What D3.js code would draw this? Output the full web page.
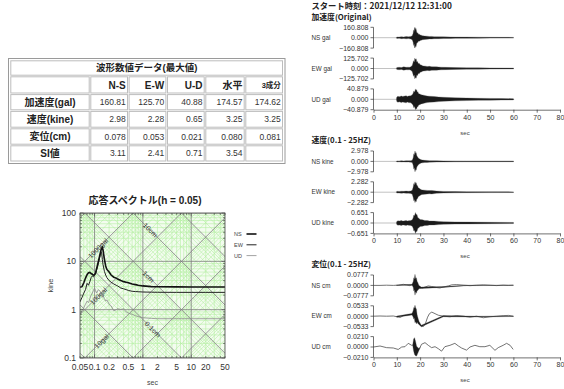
<!DOCTYPE html>
<html>
<head>
<meta charset="utf-8">
<script src="https://cdn.jsdelivr.net/npm/d3@7"></script>
<style>
  body { margin: 0; background: #fff; }
  svg { display: block; }
</style>
</head>
<body>
<svg id="chart" width="564" height="389"></svg>
<script>
// ---------- data ----------
var startTime = 'スタート時刻：2021/12/12 12:31:00'

var tableTitle = '波形数値データ(最大値)'
var tableCols = ['N-S', 'E-W', 'U-D', '水平', '3成分']
var tableRows = ['加速度(gal)', '速度(kine)', '変位(cm)', 'SI値']
var accPeak = [160.81, 125.70, 40.88, 174.57, 174.62]
var velPeak = [2.98, 2.28, 0.65, 3.25, 3.25]
var dispPeak = [0.078, 0.053, 0.021, 0.080, 0.081]
var siValue = [3.11, 2.41, 0.71, 3.54]

// response spectrum (h = 0.05), period in sec, velocity in kine
var specPeriod = [0.05, 0.055, 0.06, 0.065, 0.07, 0.075, 0.08, 0.085, 0.09, 0.095, 0.1, 0.105, 0.11, 0.12, 0.13, 0.135, 0.14, 0.145, 0.15, 0.16, 0.17, 0.18, 0.2, 0.22, 0.25, 0.28, 0.3, 0.35, 0.4, 0.45, 0.5, 0.6, 0.7, 0.8, 1, 1.5, 2, 5, 10, 20, 50]
var specNS = [2.9, 3.0, 3.6, 4.5, 5.3, 5.8, 5.9, 5.6, 5.4, 5.2, 5.3, 5.8, 7.0, 10, 14, 16.5, 18.5, 19.5, 17, 11, 8.0, 6.8, 6.0, 5.2, 4.7, 4.5, 4.3, 4.0, 3.8, 3.7, 3.6, 3.4, 3.3, 3.2, 3.1, 3.0, 2.98, 2.96, 2.95, 2.95, 2.95]
var specEW = [1.45, 1.8, 2.2, 2.6, 3.5, 3.2, 3.8, 4.6, 5.0, 4.8, 5.2, 5.5, 6.5, 9, 13, 16, 15, 11, 8.5, 6.2, 5.2, 4.6, 4.0, 3.7, 3.4, 3.2, 3.1, 2.8, 2.7, 2.6, 2.5, 2.4, 2.37, 2.35, 2.32, 2.3, 2.29, 2.28, 2.28, 2.28, 2.28]
var specUD = [0.8, 0.95, 1.1, 1.3, 1.5, 1.4, 1.7, 2.0, 2.2, 2.5, 2.8, 2.5, 2.2, 2.6, 2.4, 2.2, 2.0, 2.1, 1.9, 1.7, 1.5, 1.6, 1.3, 1.2, 0.95, 1.0, 1.05, 1.0, 1.05, 0.9, 0.85, 0.8, 0.75, 0.72, 0.68, 0.66, 0.65, 0.65, 0.65, 0.65, 0.65]
var specXTicks = [0.05, 0.1, 0.2, 0.5, 1, 2, 5, 10, 20, 50]
var specYTicks = [0.1, 1, 10, 100]
var dispLineLabels = [[10, '10cm', 1.42], [1, '1cm', 1.3], [0.1, '0.1cm', 1.6]]
var accLineLabels = [[1000, '1000gal', 0.118], [100, '100gal', 0.12], [10, '10gal', 0.14]]

// waveforms: axis limits and amplitude envelopes [sec, value]
var channels = ['NS', 'EW', 'UD']
var accMax = [160.808, 125.702, 40.879]
var velMax = [2.978, 2.282, 0.651]
var dispMax = [0.0777, 0.0533, 0.0210]

var accEnvNS = [[9.8, 0], [10, 12], [11, 10], [12, 15], [13, 12], [14, 17], [15, 14], [16, 20], [16.6, 30], [17, 70], [17.2, 120], [17.4, 95], [17.6, 150], [17.8, 160], [18, 125], [18.2, 145], [18.5, 95], [18.7, 70], [19, 78], [19.3, 52], [19.7, 55], [20, 42], [20.5, 38], [21, 32], [22, 26], [23, 24], [24, 19], [25, 20], [26, 16], [28, 15], [30, 13], [33, 12], [35, 10], [40, 9], [45, 8], [50, 6.5], [55, 5.5], [60, 5], [60.2, 0]]
var accEnvEW = [[9.8, 0], [10, 12], [11, 15], [12, 12], [13, 20], [14, 14], [14.5, 16], [15.5, 15], [16, 22], [16.6, 35], [17, 75], [17.2, 95], [17.5, 80], [17.7, 125], [18, 110], [18.3, 118], [18.6, 80], [18.9, 85], [19.2, 60], [19.6, 62], [20, 45], [20.5, 42], [21, 34], [21.5, 30], [22.5, 28], [23, 24], [24, 26], [25, 22], [27, 20], [29, 16], [31, 14], [35, 11], [40, 9], [45, 8], [50, 7], [55, 6], [60, 5], [60.2, 0]]
var accEnvUD = [[9.8, 0], [10, 9], [10.5, 12], [11, 10], [12, 13], [12.5, 11], [13, 12], [14, 14], [14.5, 11], [15, 13], [16, 14], [16.6, 18], [17, 24], [17.3, 33], [17.6, 28], [18, 40.9], [18.2, 36], [18.5, 38], [18.8, 28], [19, 30], [19.4, 22], [19.8, 21], [20.5, 18], [21, 17], [22, 15], [23, 13], [24, 12], [26, 11], [28, 9], [30, 8], [35, 6], [40, 5], [45, 4], [50, 3.5], [55, 3], [60, 2.5], [60.2, 0]]

var velEnvNS = [[9.8, 0], [10, 0.15], [11, 0.12], [12, 0.18], [13, 0.15], [14, 0.2], [15, 0.16], [16, 0.22], [16.6, 0.35], [17, 1.0], [17.3, 2.2], [17.5, 1.8], [17.8, 2.978], [18.1, 2.3], [18.3, 2.5], [18.6, 1.6], [18.8, 1.4], [19.2, 1.0], [19.5, 0.8], [20, 0.6], [20.5, 0.45], [21, 0.4], [22, 0.3], [23, 0.28], [24, 0.22], [27, 0.18], [30, 0.15], [35, 0.12], [40, 0.1], [50, 0.09], [60, 0.08], [60.2, 0]]
var velEnvEW = [[9.8, 0], [10, 0.2], [11, 0.18], [12, 0.22], [13, 0.2], [14, 0.25], [15, 0.22], [16, 0.28], [16.6, 0.45], [17, 1.1], [17.3, 1.9], [17.5, 1.6], [17.8, 2.282], [18.1, 1.9], [18.3, 2.1], [18.6, 1.5], [18.9, 1.4], [19.2, 1.0], [19.5, 0.9], [20, 0.7], [20.5, 0.55], [21, 0.5], [22, 0.45], [23, 0.4], [24, 0.35], [25, 0.38], [27, 0.25], [30, 0.18], [35, 0.14], [40, 0.11], [50, 0.09], [60, 0.07], [60.2, 0]]
var velEnvUD = [[9.8, 0], [10, 0.1], [10.5, 0.14], [11, 0.12], [12, 0.15], [12.5, 0.12], [13, 0.13], [14, 0.16], [14.5, 0.13], [15, 0.14], [16, 0.15], [16.6, 0.2], [17, 0.32], [17.3, 0.5], [17.6, 0.45], [18, 0.651], [18.3, 0.52], [18.6, 0.55], [19, 0.35], [19.4, 0.3], [20, 0.22], [21, 0.2], [22, 0.16], [23, 0.15], [24, 0.13], [26, 0.12], [28, 0.1], [30, 0.08], [35, 0.07], [40, 0.06], [50, 0.045], [60, 0.035], [60.2, 0]]

var dispNS = [[0, 0], [2.8, 0], [5.6, 0.0015], [8.5, 0], [10.6, 0.002], [12.8, 0.008], [14.2, 0.004], [15.6, -0.002], [16.8, 0.007], [17.5, 0.008], [18.3, 0], [19, -0.008], [19.9, -0.016], [21.1, -0.019], [22.1, -0.012], [23.5, -0.004], [24.9, -0.008], [27.1, -0.016], [28.5, -0.019], [30, -0.012], [32.1, -0.004], [33.5, 0.004], [35.6, 0.006], [38.5, 0.002], [41.4, -0.002], [44.2, 0.0015], [47.1, 0.004], [50, 0.0015], [52.8, -0.0015], [55.6, 0.002], [57.8, 0], [60, 0.0015]]
var dispEW = [[0, 0], [2.8, 0.001], [5.6, 0], [8.5, 0.001], [10.6, -0.004], [11.5, -0.006], [12.8, 0.003], [14.2, 0.005], [15.6, 0.008], [16.8, 0.011], [17.5, 0.016], [18.2, 0.005], [19, -0.021], [19.9, -0.045], [20.6, -0.051], [21.4, -0.053], [22.3, -0.037], [23.2, -0.005], [24, 0.013], [25, 0.021], [26.4, 0.013], [27.8, 0.005], [30, 0], [32.8, -0.003], [35.6, 0.003], [38.5, 0], [41.4, -0.005], [44.2, 0], [47.1, -0.008], [50, -0.003], [52.8, 0], [55.6, 0.003], [58, 0.004], [60, 0]]
var dispUD = [[0, 0], [2.8, 0.002], [5.6, -0.0013], [8.5, -0.002], [10.6, -0.005], [12.1, 0], [13.5, 0.0006], [14.9, 0.0074], [16.4, 0.0034], [17.4, 0.0042], [18.5, -0.0084], [19.6, -0.0048], [20.6, 0.0055], [22.1, 0.0088], [23.5, 0.0034], [24.9, -0.0013], [26.4, 0.0006], [27.8, -0.0034], [29.2, -0.0084], [30.6, 0.0006], [32.8, 0.0034], [34.9, 0.0074], [36.4, 0.0021], [37.8, -0.0021], [39.9, -0.0063], [41.4, 0], [43.5, 0.0034], [45.6, 0.0006], [47.8, 0.0006], [49.9, 0.0034], [52.1, -0.0067], [53.5, -0.0013], [55.6, 0.0034], [57.1, 0.0074], [58.6, 0.0034], [59.9, -0.0048]]
var dispEnvNS = [[9.8, 0], [10, 0.002], [16.5, 0.003], [17, 0.02], [17.3, 0.05], [17.5, 0.04], [17.8, 0.0777], [18.1, 0.05], [18.4, 0.058], [18.7, 0.035], [19, 0.03], [19.5, 0.012], [20.5, 0.005], [30, 0.003], [40, 0.002], [60, 0.001]]
var dispEnvEW = [[9.8, 0], [10, 0.003], [16.5, 0.004], [17, 0.016], [17.3, 0.03], [17.5, 0.025], [17.8, 0.045], [18.1, 0.035], [18.4, 0.038], [18.7, 0.02], [19, 0.016], [19.5, 0.008], [20.5, 0.004], [30, 0.003], [45, 0.002], [60, 0.0015]]
var dispEnvUD = [[16.8, 0], [17.2, 0.012], [17.6, 0.017], [18, 0.015], [18.5, 0.01], [19, 0.006], [19.5, 0.002], [20, 0]]

var timeTicks = [0, 10, 20, 30, 40, 50, 60, 70, 80]

// ---------- drawing ----------
var FONT = '"Liberation Sans", Arial, "Noto Sans CJK JP", sans-serif'
var JFONT = '"Noto Sans CJK JP", "Liberation Sans", sans-serif'
var svg = d3.select('#chart').style('font-family', FONT)

// ----- table -----
function drawTable () {
  var colEdges = [10, 90, 128.3, 166.7, 205, 245, 283.3]
  var rowEdges = [60, 76, 93.8, 110.6, 128, 145, 161.8]
  var t = svg.append('g').attr('class', 'table')

  t.append('rect')
    .attr('x', 8.5).attr('y', 58.5).attr('width', 276.5).attr('height', 105)
    .attr('fill', '#fff').attr('stroke', '#9a9a9a')

  function cell (c0, c1, r) {
    t.append('rect')
      .attr('x', colEdges[c0] + 0.8).attr('y', rowEdges[r] + 0.8)
      .attr('width', colEdges[c1] - colEdges[c0] - 1.6)
      .attr('height', rowEdges[r + 1] - rowEdges[r] - 1.6)
      .attr('fill', 'none').attr('stroke', '#bdbdbd')
  }
  function mid (r) { return (rowEdges[r] + rowEdges[r + 1]) / 2 }

  cell(0, 6, 0)
  t.append('text').attr('x', (colEdges[0] + colEdges[6]) / 2).attr('y', mid(0)).attr('dy', '0.36em')
    .attr('text-anchor', 'middle').attr('font-weight', 'bold').attr('font-size', 9.5).attr('fill', '#222')
    .text(tableTitle)

  cell(0, 1, 1)
  tableCols.forEach(function (c, i) {
    cell(i + 1, i + 2, 1)
    t.append('text').attr('x', colEdges[i + 2] - 2.5).attr('y', mid(1)).attr('dy', '0.36em')
      .attr('text-anchor', 'end').attr('font-weight', 'bold')
      .attr('font-size', i === 4 ? 7.5 : 10).attr('fill', '#222')
      .text(c)
  })

  var rowValues = [
    accPeak.map(d3.format('.2f')),
    velPeak.map(d3.format('.2f')),
    dispPeak.map(d3.format('.3f')),
    siValue.map(d3.format('.2f'))
  ]
  tableRows.forEach(function (label, j) {
    var r = j + 2
    cell(0, 1, r)
    t.append('text').attr('x', (colEdges[0] + colEdges[1]) / 2).attr('y', mid(r)).attr('dy', '0.36em')
      .attr('text-anchor', 'middle').attr('font-weight', 'bold').attr('font-size', 10).attr('fill', '#222')
      .text(label)
    for (var i = 0; i < 5; i++) {
      cell(i + 1, i + 2, r)
      if (rowValues[j][i] === undefined) continue
      t.append('text').attr('x', colEdges[i + 2] - 2.5).attr('y', mid(r)).attr('dy', '0.36em')
        .attr('text-anchor', 'end').attr('font-size', 8.5).attr('fill', '#333')
        .text(rowValues[j][i])
    }
  })
}

// ----- response spectrum -----
function logSteps (lo, hi) {
  var out = []
  for (var e = Math.floor(Math.log10(lo)) - 1; e <= Math.ceil(Math.log10(hi)); e++) {
    for (var k = 1; k < 10; k++) {
      var v = +(k * Math.pow(10, e)).toPrecision(6)
      if (v >= lo * 0.9999 && v <= hi * 1.0001) out.push({ v: v, major: k === 1 })
    }
  }
  return out
}

function drawSpectrum () {
  var left = 80, right = 225, top = 213, bottom = 358
  var sx = d3.scaleLog().domain([0.05, 50]).range([left, right])
  var sy = d3.scaleLog().domain([0.1, 100]).range([bottom, top])
  var twoPi = 2 * Math.PI
  var g = svg.append('g').attr('class', 'spectrum')

  svg.append('clipPath').attr('id', 'clipSpec')
    .append('rect').attr('x', left).attr('y', top).attr('width', right - left).attr('height', bottom - top)

  var grid = g.append('g').attr('clip-path', 'url(#clipSpec)')
  grid.append('rect').attr('x', left).attr('y', top).attr('width', right - left).attr('height', bottom - top)
    .attr('fill', '#f3fcef')

  var vLines = logSteps(0.1, 100)
  var tLines = logSteps(0.05, 50)
  var dLines = logSteps(0.0001, 1000)
  var aLines = logSteps(0.01, 100000)

  function drawSet (major, color, width) {
    var gg = grid.append('g').attr('stroke', color).attr('stroke-width', width).attr('fill', 'none')
    vLines.filter(function (d) { return d.major === major }).forEach(function (d) {
      gg.append('line').attr('x1', left).attr('x2', right).attr('y1', sy(d.v)).attr('y2', sy(d.v))
    })
    tLines.filter(function (d) { return d.major === major }).forEach(function (d) {
      gg.append('line').attr('y1', top).attr('y2', bottom).attr('x1', sx(d.v)).attr('x2', sx(d.v))
    })
    dLines.filter(function (d) { return d.major === major }).forEach(function (d) {
      gg.append('line')
        .attr('x1', sx(0.05)).attr('y1', sy(twoPi * d.v / 0.05))
        .attr('x2', sx(50)).attr('y2', sy(twoPi * d.v / 50))
    })
    aLines.filter(function (d) { return d.major === major }).forEach(function (d) {
      gg.append('line')
        .attr('x1', sx(0.05)).attr('y1', sy(d.v * 0.05 / twoPi))
        .attr('x2', sx(50)).attr('y2', sy(d.v * 50 / twoPi))
    })
  }
  drawSet(false, '#b2ee9f', 0.55)
  drawSet(true, '#7c7c7c', 0.8)

  // diagonal labels
  dispLineLabels.forEach(function (d) {
    var x = sx(d[2]), y = sy(twoPi * d[0] / d[2])
    grid.append('text').attr('transform', 'translate(' + x + ',' + y + ') rotate(45)')
      .attr('text-anchor', 'middle').attr('dy', '0.35em').attr('font-size', 7).attr('fill', '#333')
      .text(d[1])
  })
  accLineLabels.forEach(function (d) {
    var x = sx(d[2]), y = sy(d[0] * d[2] / twoPi)
    grid.append('text').attr('transform', 'translate(' + x + ',' + y + ') rotate(-45)')
      .attr('text-anchor', 'middle').attr('dy', '0.35em').attr('font-size', 7).attr('fill', '#333')
      .text(d[1])
  })

  // curves
  var line = d3.line()
    .x(function (d, i) { return sx(specPeriod[i]) })
    .y(function (d) { return sy(d) })
  var curves = [
    { name: 'NS', values: specNS, color: '#111', width: 1.6 },
    { name: 'EW', values: specEW, color: '#222', width: 1.0 },
    { name: 'UD', values: specUD, color: '#8a8a8a', width: 0.8 }
  ]
  curves.slice().reverse().forEach(function (c) {
    grid.append('path').attr('d', line(c.values))
      .attr('fill', 'none').attr('stroke', c.color).attr('stroke-width', c.width)
  })

  // frame and ticks
  g.append('rect').attr('x', left).attr('y', top).attr('width', right - left).attr('height', bottom - top)
    .attr('fill', 'none').attr('stroke', '#444').attr('stroke-width', 0.8)
  var tk = g.append('g').attr('stroke', '#444').attr('stroke-width', 0.6)
  tLines.forEach(function (d) {
    var len = d.major ? 3.5 : 2
    tk.append('line').attr('x1', sx(d.v)).attr('x2', sx(d.v)).attr('y1', bottom).attr('y2', bottom - len)
    tk.append('line').attr('x1', sx(d.v)).attr('x2', sx(d.v)).attr('y1', top).attr('y2', top + len)
  })
  vLines.forEach(function (d) {
    var len = d.major ? 3.5 : 2
    tk.append('line').attr('y1', sy(d.v)).attr('y2', sy(d.v)).attr('x1', left).attr('x2', left + len)
    tk.append('line').attr('y1', sy(d.v)).attr('y2', sy(d.v)).attr('x1', right).attr('x2', right - len)
  })

  g.selectAll('.xl').data(specXTicks).enter().append('text')
    .attr('x', function (d) { return sx(d) }).attr('y', bottom + 12)
    .attr('text-anchor', 'middle').attr('font-size', 8.5).attr('fill', '#333')
    .text(function (d) { return d3.format('~g')(d) })
  g.selectAll('.yl').data(specYTicks).enter().append('text')
    .attr('x', left - 4).attr('y', function (d) { return sy(d) }).attr('dy', '0.35em')
    .attr('text-anchor', 'end').attr('font-size', 8.5).attr('fill', '#333')
    .text(function (d) { return d3.format('~g')(d) })

  g.append('text').attr('x', (left + right) / 2).attr('y', bottom + 27)
    .attr('text-anchor', 'middle').attr('font-size', 7).attr('fill', '#444').text('sec')
  g.append('text').attr('transform', 'translate(' + 50 + ',' + ((top + bottom) / 2) + ') rotate(-90)')
    .attr('text-anchor', 'middle').attr('dy', '0.35em').attr('font-size', 7.5).attr('fill', '#444').text('kine')
  g.append('text').attr('x', 145).attr('y', 203.5)
    .attr('text-anchor', 'middle').attr('font-size', 10).attr('font-weight', 'bold').attr('fill', '#222')
    .text('応答スペクトル(h = 0.05)')

  // legend
  curves.forEach(function (c, i) {
    var y = 234 + i * 10.8
    g.append('text').attr('x', 234).attr('y', y).attr('dy', '0.35em')
      .attr('font-size', 5.5).attr('fill', '#444').text(c.name)
    g.append('line').attr('x1', 246.5).attr('x2', 256.5).attr('y1', y).attr('y2', y)
      .attr('stroke', c.color).attr('stroke-width', c.width)
  })
}

// ----- waveforms -----
function drawWaveforms () {
  var tx = d3.scaleLinear().domain([0, 80]).range([373.5, 560])
  var pitch = 30.8, height = 20.8
  var panels = [
    { title: '加速度(Original)', unit: 'gal', top: 27.3, max: accMax, fmt: d3.format('.3f'), env: [accEnvNS, accEnvEW, accEnvUD] },
    { title: '速度(0.1 - 25HZ)', unit: 'kine', top: 151, max: velMax, fmt: d3.format('.3f'), env: [velEnvNS, velEnvEW, velEnvUD] },
    { title: '変位(0.1 - 25HZ)', unit: 'cm', top: 275, max: dispMax, fmt: d3.format('.4f'), env: [dispEnvNS, dispEnvEW, dispEnvUD], trend: [dispNS, dispEW, dispUD] }
  ]

  svg.append('text').attr('x', 311.5).attr('y', 9).style('font-family', JFONT)
    .attr('font-size', 8.3).attr('font-weight', 'bold').attr('fill', '#222').text(startTime)

  panels.forEach(function (p) {
    var g = svg.append('g').attr('class', 'panel')
    g.append('text').attr('x', 311.5).attr('y', p.top - 7.6).style('font-family', JFONT)
      .attr('font-size', 7.8).attr('font-weight', 'bold').attr('fill', '#222').text(p.title)

    channels.forEach(function (ch, i) {
      var m = p.max[i]
      var top = p.top + i * pitch
      var y = d3.scaleLinear().domain([-m, m]).range([top + height, top])
      var trend = function () { return 0 }
      if (p.trend) {
        var tr = p.trend[i]
        trend = d3.scaleLinear().domain(tr.map(function (d) { return d[0] })).range(tr.map(function (d) { return d[1] })).clamp(true)
        g.append('path')
          .attr('d', d3.line().x(function (d) { return tx(d[0]) }).y(function (d) { return y(d[1]) })(tr))
          .attr('fill', 'none').attr('stroke', '#444').attr('stroke-width', 0.75)
      } else {
        g.append('line').attr('x1', tx(0)).attr('x2', tx(60)).attr('y1', y(0)).attr('y2', y(0))
          .attr('stroke', '#999').attr('stroke-width', 0.6)
      }
      var area = d3.area()
        .x(function (d) { return tx(d[0]) })
        .y0(function (d) { return y(trend(d[0]) - d[1]) })
        .y1(function (d) { return y(trend(d[0]) + d[1]) })
      g.append('path').attr('d', area(p.env[i]))
        .attr('fill', '#1a1a1a').attr('stroke', '#555').attr('stroke-width', 0.3)

      // y axis bracket
      var ax = tx(0)
      g.append('line').attr('x1', ax).attr('x2', ax).attr('y1', y(m)).attr('y2', y(-m))
        .attr('stroke', '#333').attr('stroke-width', 0.7)
      ;[m, 0, -m].forEach(function (v) {
        g.append('line').attr('x1', ax - 3).attr('x2', ax).attr('y1', y(v)).attr('y2', y(v))
          .attr('stroke', '#333').attr('stroke-width', 0.7)
        g.append('text').attr('x', ax - 5).attr('y', y(v)).attr('dy', '0.35em')
          .attr('text-anchor', 'end').attr('font-size', 7).attr('fill', '#333')
          .text(p.fmt(v === 0 ? 0 : v))
      })
      g.append('text').attr('x', 311.5).attr('y', y(0)).attr('dy', '0.35em')
        .attr('font-size', 6.3).attr('fill', '#333').text(ch + ' ' + p.unit)
    })

    var bottom = p.top + 2 * pitch + height
    var axis = d3.axisBottom(tx).tickValues(timeTicks).tickSizeInner(3).tickSizeOuter(0).tickPadding(2)
    var xa = g.append('g').attr('transform', 'translate(0,' + bottom + ')').call(axis)
    xa.selectAll('path, line').attr('stroke', '#333').attr('stroke-width', 0.7)
    xa.selectAll('text').attr('font-size', 7).attr('fill', '#333').attr('font-family', FONT)
    g.append('text').attr('x', 465).attr('y', bottom + 25)
      .attr('text-anchor', 'middle').attr('font-size', 6).attr('fill', '#444').text('sec')
  })
}

svg.append('rect').attr('width', 564).attr('height', 389).attr('fill', '#fff')
drawTable()
drawSpectrum()
drawWaveforms()
</script>
</body>
</html>
